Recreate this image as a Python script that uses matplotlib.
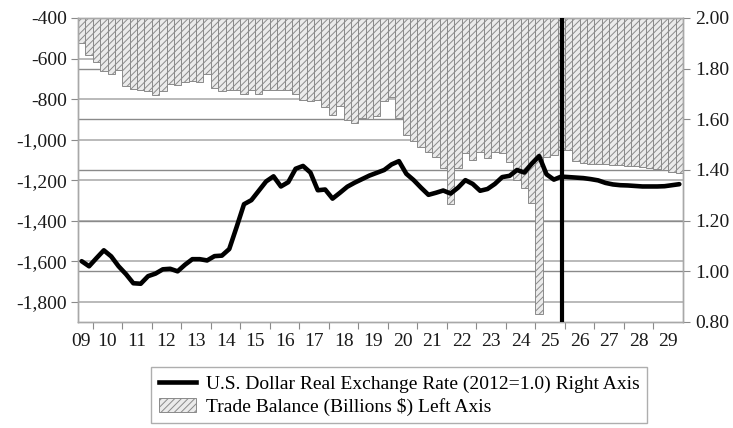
import numpy as np
import matplotlib
matplotlib.use("Agg")
import matplotlib.pyplot as plt
import matplotlib.transforms as mtransforms
from matplotlib.lines import Line2D
from matplotlib.patches import Patch

plt.rcParams['font.family'] = ['Liberation Serif', 'DejaVu Serif']
plt.rcParams['hatch.linewidth'] = 0.7

# quarterly data, 2009Q3 .. 2029Q4
trade_balance = [
    -523, -582, -616, -660, -675, -655, -735, -752, -755, -762,
    -780, -760, -728, -733, -716, -713, -714, -678, -747, -762,
    -756, -757, -775, -757, -777, -757, -755, -757, -757, -775,
    -805, -810, -805, -840, -879, -833, -904, -920, -892, -900,
    -885, -810, -790, -895, -975, -1008, -1036, -1060, -1085, -1142,
    -1320, -1140, -1067, -1101, -1060, -1092, -1060, -1067, -1110, -1200,
    -1240, -1314, -1862, -1085, -1077, -1052, -1052, -1105, -1116, -1118,
    -1120, -1121, -1123, -1126, -1128, -1130, -1135, -1140, -1145, -1152,
    -1158, -1166,
]
dollar_rate = [
    1.040, 1.020, 1.052, 1.083, 1.059, 1.020, 0.989, 0.953, 0.951, 0.981,
    0.991, 1.008, 1.010, 1.000, 1.026, 1.048, 1.048, 1.043, 1.060, 1.062,
    1.088, 1.175, 1.265, 1.281, 1.318, 1.355, 1.375, 1.335, 1.352, 1.405,
    1.416, 1.390, 1.320, 1.323, 1.287, 1.310, 1.334, 1.350, 1.364, 1.378,
    1.389, 1.400, 1.422, 1.435, 1.385, 1.360, 1.330, 1.302, 1.310, 1.319,
    1.307, 1.330, 1.360, 1.345, 1.318, 1.325, 1.345, 1.372, 1.377, 1.400,
    1.390, 1.425, 1.455, 1.383, 1.362, 1.374, 1.372, 1.370, 1.368, 1.364,
    1.359, 1.349, 1.343, 1.340, 1.339, 1.337, 1.335, 1.335, 1.335, 1.336,
    1.340, 1.344,
]
first_quarter = 2009.5
forecast_start = 2025.9
year_labels = ['09', '10', '11', '12', '13', '14', '15', '16', '17', '18', '19',
               '20', '21', '22', '23', '24', '25', '26', '27', '28', '29']
left_ticks = [-1800, -1600, -1400, -1200, -1000, -800, -600, -400]
right_ticks = [0.80, 1.00, 1.20, 1.40, 1.60, 1.80, 2.00]

n = len(trade_balance)
xq = first_quarter + 0.25 * np.arange(n) + 0.125
top = -400

fig = plt.figure(figsize=(7.33, 4.28), dpi=100)
ax = fig.add_axes([78 / 733, 106 / 428, 605 / 733, 304 / 428])
ax2 = ax.twinx()

ax.set_xlim(first_quarter, 2030)
ax.set_ylim(-1900, -400)
ax2.set_ylim(0.8, 2.0)

# gridlines for both scales, behind the bars
for v in left_ticks[:-1]:
    ax.axhline(v, color='#b4b4b4', lw=1.3, zorder=0)
tr = mtransforms.blended_transform_factory(ax.transAxes, ax2.transData)
for v in right_ticks[1:-1]:
    ax.plot([0, 1], [v, v], transform=tr, color='#8a8a8a', lw=1.0, zorder=0)

heights = np.array(trade_balance) - top
ax.bar(xq, heights, bottom=top, width=0.25, facecolor='#ebebeb',
       edgecolor='#8a8a8a', linewidth=0.7, hatch='/////', zorder=2)

ax2.plot(xq, dollar_rate, color='black', lw=3.3, solid_joinstyle='round',
         solid_capstyle='round', zorder=3)
ax2.axvline(forecast_start, color='black', lw=3.0, zorder=4)

# axes styling
for a in (ax, ax2):
    for s in a.spines.values():
        s.set_color('#a8a8a8')
        s.set_linewidth(1.0)

ax.set_yticks(left_ticks)
ax.set_yticklabels([f"{v:,.0f}" for v in left_ticks])
ax2.set_yticks(right_ticks)
ax2.set_yticklabels([f"{v:.2f}" for v in right_ticks])
ax.tick_params(axis='y', direction='out', length=5, color='#8a8a8a',
               labelsize=14, pad=3, labelcolor='#1a1a1a')
ax2.tick_params(axis='y', direction='out', length=5, color='#8a8a8a',
                labelsize=14, pad=4, labelcolor='#1a1a1a')

ax.set_xticks(np.arange(2010, 2030))
ax.set_xticklabels([])
label_pos = [2009.6] + [y + 0.5 for y in range(2010, 2030)]
ax.set_xticks(label_pos, minor=True)
ax.set_xticklabels(year_labels, minor=True)
ax.tick_params(axis='x', which='major', direction='out', length=5,
               color='#8a8a8a')
ax.tick_params(axis='x', which='minor', length=0, pad=8, labelsize=14,
               labelcolor='#1a1a1a')

handles = [
    Line2D([], [], color='black', lw=3.3),
    Patch(facecolor='#ebebeb', edgecolor='#8a8a8a', hatch='/////', lw=0.7),
]
labels = ['U.S. Dollar Real Exchange Rate (2012=1.0) Right Axis',
          'Trade Balance (Billions $) Left Axis']
leg = fig.legend(handles, labels, loc='upper center',
                 bbox_to_anchor=(0.545, 0.142), fontsize=14, frameon=True,
                 fancybox=False, handlelength=1.9, handletextpad=0.5,
                 borderpad=0.4, labelspacing=0.25, borderaxespad=0)
leg.get_frame().set_edgecolor('#9a9a9a')
leg.get_frame().set_linewidth(1.0)

fig.savefig('out.png', dpi=100)
